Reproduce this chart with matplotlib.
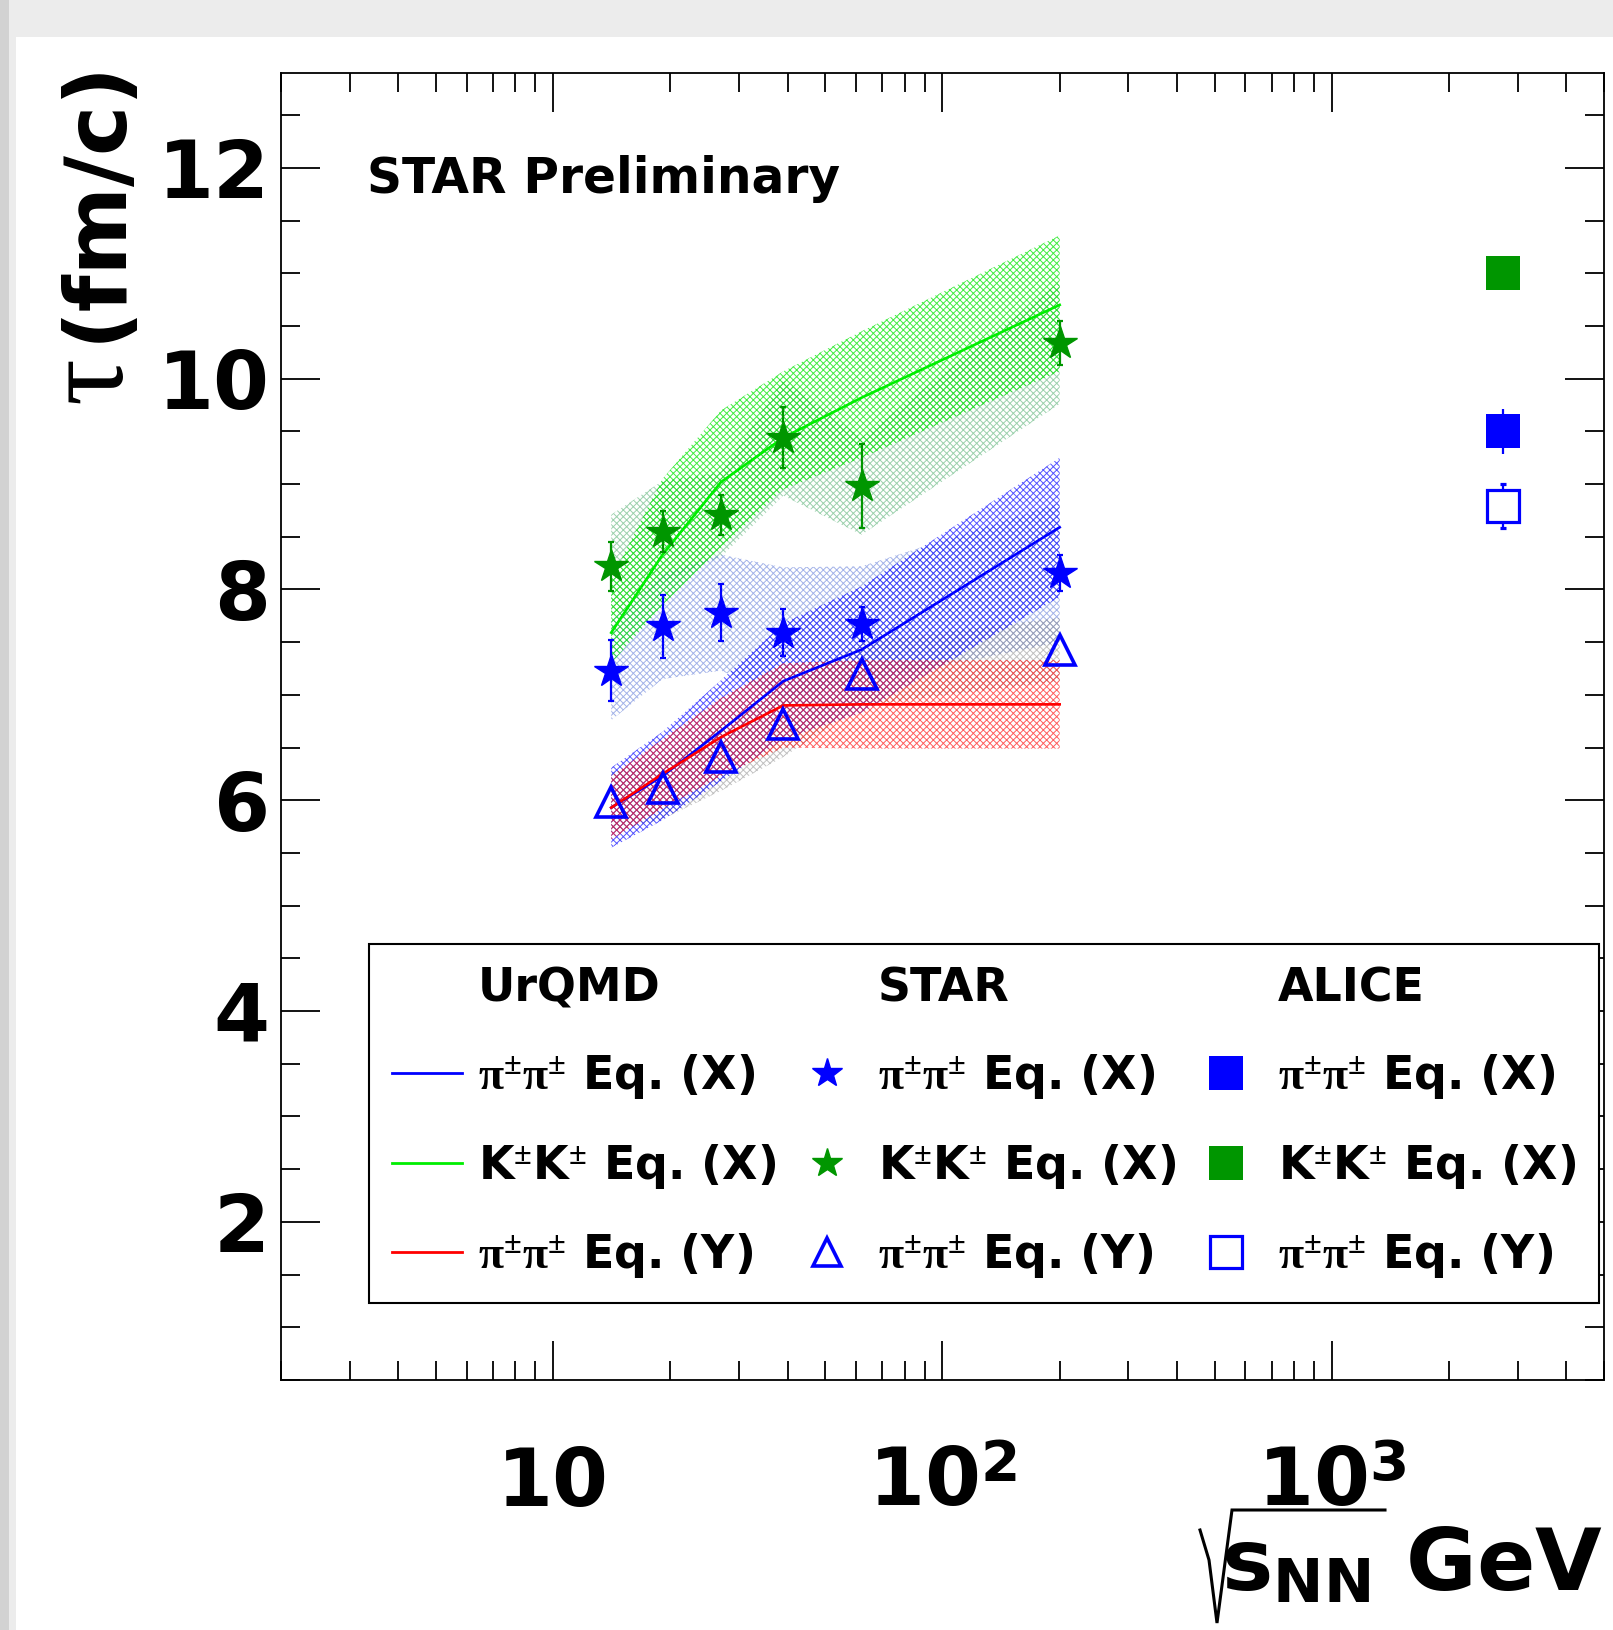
import matplotlib
matplotlib.use("Agg")
import matplotlib.pyplot as plt
from matplotlib.lines import Line2D
from matplotlib.patches import Rectangle
from matplotlib.ticker import MultipleLocator, LogLocator, NullFormatter

plt.rcParams['font.family'] = ['DejaVu Sans']
plt.rcParams['font.weight'] = 'bold'
plt.rcParams['mathtext.fontset'] = 'custom'
plt.rcParams['mathtext.rm'] = 'Liberation Serif'
plt.rcParams['mathtext.it'] = 'Liberation Serif:italic'
plt.rcParams['mathtext.bf'] = 'DejaVu Sans:bold'
plt.rcParams['mathtext.sf'] = 'DejaVu Sans'
plt.rcParams['hatch.linewidth'] = 0.7

# collision energies (GeV), as placed on the plot
energy = [14.1, 19.1, 27, 39, 62, 200]
alice_energy = [2760]

# STAR (value, stat. error, sys. error)
star_pi_x = [7.23, 7.65, 7.78, 7.59, 7.67, 8.16]
star_pi_x_stat = [0.29, 0.30, 0.27, 0.22, 0.16, 0.17]
star_pi_x_sys = [0.47, 0.50, 0.55, 0.62, 0.55, 0.66]
star_k_x = [8.22, 8.55, 8.71, 9.44, 8.98, 10.34]
star_k_x_stat = [0.23, 0.19, 0.19, 0.29, 0.40, 0.21]
star_k_x_sys = [0.49, 0.48, 0.40, 0.55, 0.46, 0.58]
star_pi_y = [5.98, 6.12, 6.41, 6.72, 7.20, 7.43]
star_pi_y_sys = [0.28, 0.30, 0.32, 0.31, 0.30, 0.30]

# UrQMD
urqmd_pi_x = [5.93, 6.23, 6.66, 7.13, 7.43, 8.59]
urqmd_pi_x_err = [0.38, 0.42, 0.48, 0.55, 0.60, 0.66]
urqmd_k_x = [7.59, 8.33, 9.02, 9.44, 9.82, 10.70]
urqmd_k_lo = [7.30, 7.85, 8.40, 8.95, 9.25, 10.07]
urqmd_k_hi = [8.10, 9.05, 9.70, 10.07, 10.45, 11.36]
urqmd_pi_y = [5.93, 6.25, 6.60, 6.90, 6.91, 6.91]
urqmd_pi_y_err = [0.30, 0.33, 0.37, 0.40, 0.42, 0.42]

# ALICE
alice_pi_x = [9.50]
alice_pi_x_err = [0.21]
alice_k_x = [11.00]
alice_pi_y = [8.79]
alice_pi_y_err = [0.21]

BLUE = '#0000ff'
DKGREEN = '#009600'
GREEN = '#00ee00'
RED = '#ff0000'
W, H = 1613, 1630


def lo_hi(vals, errs):
    return [v - e for v, e in zip(vals, errs)], [v + e for v, e in zip(vals, errs)]


def band(ax, lo, hi, color, z):
    ax.fill_between(energy, lo, hi, facecolor='none', edgecolor=color,
                    hatch='xxxxx', linewidth=0, zorder=z)


fig = plt.figure(figsize=(W / 100, H / 100), dpi=100)
fig.patch.set_facecolor('#ececec')
fig.add_artist(Rectangle((16 / W, 0), 1 - 16 / W, 1 - 37 / H, transform=fig.transFigure,
                         facecolor='white', edgecolor='none', zorder=0))
fig.add_artist(Rectangle((0, 0), 9 / W, 1, transform=fig.transFigure,
                         facecolor='#d2d2d2', edgecolor='none', zorder=0))

ax = fig.add_axes([0.1742, 0.1534, 0.8202, 0.8018])
ax.set_facecolor('none')

# systematic / model bands
band(ax, *lo_hi(star_k_x, star_k_x_sys), (0.40, 0.72, 0.50, 0.65), 1)
band(ax, *lo_hi(star_pi_x, star_pi_x_sys), (0.40, 0.50, 0.85, 0.6), 1)
band(ax, *lo_hi(star_pi_y, star_pi_y_sys), (0.55, 0.55, 0.55, 0.55), 1)
band(ax, urqmd_k_lo, urqmd_k_hi, (0.0, 0.9, 0.0, 0.75), 2)
band(ax, *lo_hi(urqmd_pi_x, urqmd_pi_x_err), (0.1, 0.1, 1.0, 0.75), 2)
band(ax, *lo_hi(urqmd_pi_y, urqmd_pi_y_err), (1.0, 0.1, 0.1, 0.7), 2)

# UrQMD curves
ax.plot(energy, urqmd_k_x, color=GREEN, lw=1.9, zorder=3)
ax.plot(energy, urqmd_pi_x, color=BLUE, lw=1.9, zorder=3)
ax.plot(energy, urqmd_pi_y, color=RED, lw=1.9, zorder=3)

# STAR points
ax.errorbar(energy, star_k_x, yerr=star_k_x_stat, fmt='*', ms=25, color=DKGREEN,
            elinewidth=1.6, capsize=2, capthick=1.6, zorder=5)
ax.errorbar(energy, star_pi_x, yerr=star_pi_x_stat, fmt='*', ms=25, color=BLUE,
            elinewidth=1.6, capsize=2, capthick=1.6, zorder=5)
ax.plot(energy, star_pi_y, '^', ms=21, mfc='none', mec=BLUE, mew=2.6, zorder=5)

# ALICE points
ax.plot(alice_energy, alice_k_x, 's', ms=25, color=DKGREEN, mew=0, zorder=5)
ax.errorbar(alice_energy, alice_pi_x, yerr=alice_pi_x_err, fmt='s', ms=25, color=BLUE,
            mew=0, elinewidth=1.6, capsize=2, capthick=1.6, zorder=5)
ax.errorbar(alice_energy, alice_pi_y, yerr=alice_pi_y_err, fmt='s', ms=23, mfc='white',
            mec=BLUE, mew=2.3, ecolor=BLUE, elinewidth=1.6, capsize=2, capthick=1.6, zorder=5)

ax.set_xscale('log')
ax.set_xlim(2, 5000)
ax.set_ylim(0.5, 12.9)

ax.set_yticks([2, 4, 6, 8, 10, 12])
ax.yaxis.set_minor_locator(MultipleLocator(0.5))
ax.set_xticks([10, 100, 1000], labels=['10', r'$\mathbf{10}^{\mathsf{2}}$', r'$\mathbf{10}^{\mathsf{3}}$'])
ax.xaxis.set_minor_locator(LogLocator(base=10, subs=range(2, 10)))
ax.xaxis.set_minor_formatter(NullFormatter())

ax.tick_params(which='both', direction='in', top=True, right=True, width=1.3)
ax.tick_params(which='major', length=28, labelsize=58)
ax.tick_params(which='minor', length=13.5)
ax.tick_params(axis='y', which='major', pad=8)
ax.tick_params(axis='x', which='major', pad=91)
for lab in ax.get_xticklabels():
    lab.set_verticalalignment('baseline')
for sp in ax.spines.values():
    sp.set_linewidth(1.3)

ax.text(0.065, 0.908, 'STAR Preliminary', transform=ax.transAxes, fontsize=35,
        fontweight='bold', va='baseline')

# y title: tau in a serif face, unit in bold sans
fig.text(120 / W, 1 - 58 / H, '(fm/c)', rotation=90, rotation_mode='anchor',
         ha='right', va='baseline', fontsize=61, fontweight='bold')
fig.text(120 / W, 1 - 356 / H, 'τ', rotation=90, rotation_mode='anchor',
         ha='right', va='baseline', fontsize=84, fontweight='normal',
         family='Liberation Serif')

# x title with a drawn radical sign
fig.text(0.994, 1 - 1590 / H, r'$\mathbf{s}_{\mathbf{NN}}$ GeV', ha='right', va='baseline',
         fontsize=62, fontweight='bold')
rad_x = [1200, 1209, 1217, 1232, 1385]
rad_y = [1530, 1560, 1623, 1510, 1510]
fig.add_artist(Line2D([v / W for v in rad_x], [1 - v / H for v in rad_y],
                      transform=fig.transFigure, color='black', lw=2.2,
                      solid_joinstyle='miter'))

# legend (three columns with headers)
blank = Line2D([], [], ls='none', marker='none')
handles = [
    blank,
    Line2D([], [], color=BLUE, lw=2),
    Line2D([], [], color=GREEN, lw=2),
    Line2D([], [], color=RED, lw=2),
    blank,
    Line2D([], [], ls='none', marker='*', ms=22, color=BLUE),
    Line2D([], [], ls='none', marker='*', ms=22, color=DKGREEN),
    Line2D([], [], ls='none', marker='^', ms=20, mfc='none', mec=BLUE, mew=2.6),
    blank,
    Line2D([], [], ls='none', marker='s', ms=25, color=BLUE, mew=0),
    Line2D([], [], ls='none', marker='s', ms=25, color=DKGREEN, mew=0),
    Line2D([], [], ls='none', marker='s', ms=23, mfc='white', mec=BLUE, mew=2.3),
]
pi_x = r'$\mathrm{\pi^{\pm}\pi^{\pm}}$ Eq. (X)'
k_x = r'$\mathbf{K}^{\mathrm{\pm}}\mathbf{K}^{\mathrm{\pm}}$ Eq. (X)'
pi_y = r'$\mathrm{\pi^{\pm}\pi^{\pm}}$ Eq. (Y)'
labels = ['UrQMD', pi_x, k_x, pi_y, 'STAR', pi_x, k_x, pi_y, 'ALICE', pi_x, k_x, pi_y]

leg = ax.legend(handles, labels, ncol=3, loc='upper left', bbox_to_anchor=(0.0665, 0.3336),
                borderaxespad=0, prop={'family': 'DejaVu Sans', 'weight': 'bold', 'size': 33},
                handlelength=1.52, handletextpad=0.36, columnspacing=0.34,
                labelspacing=0.88, borderpad=0.5, fancybox=False, framealpha=1,
                edgecolor='black')
leg.get_frame().set_linewidth(1.5)
leg.set_zorder(10)

fig.savefig('out.png', dpi=100)
